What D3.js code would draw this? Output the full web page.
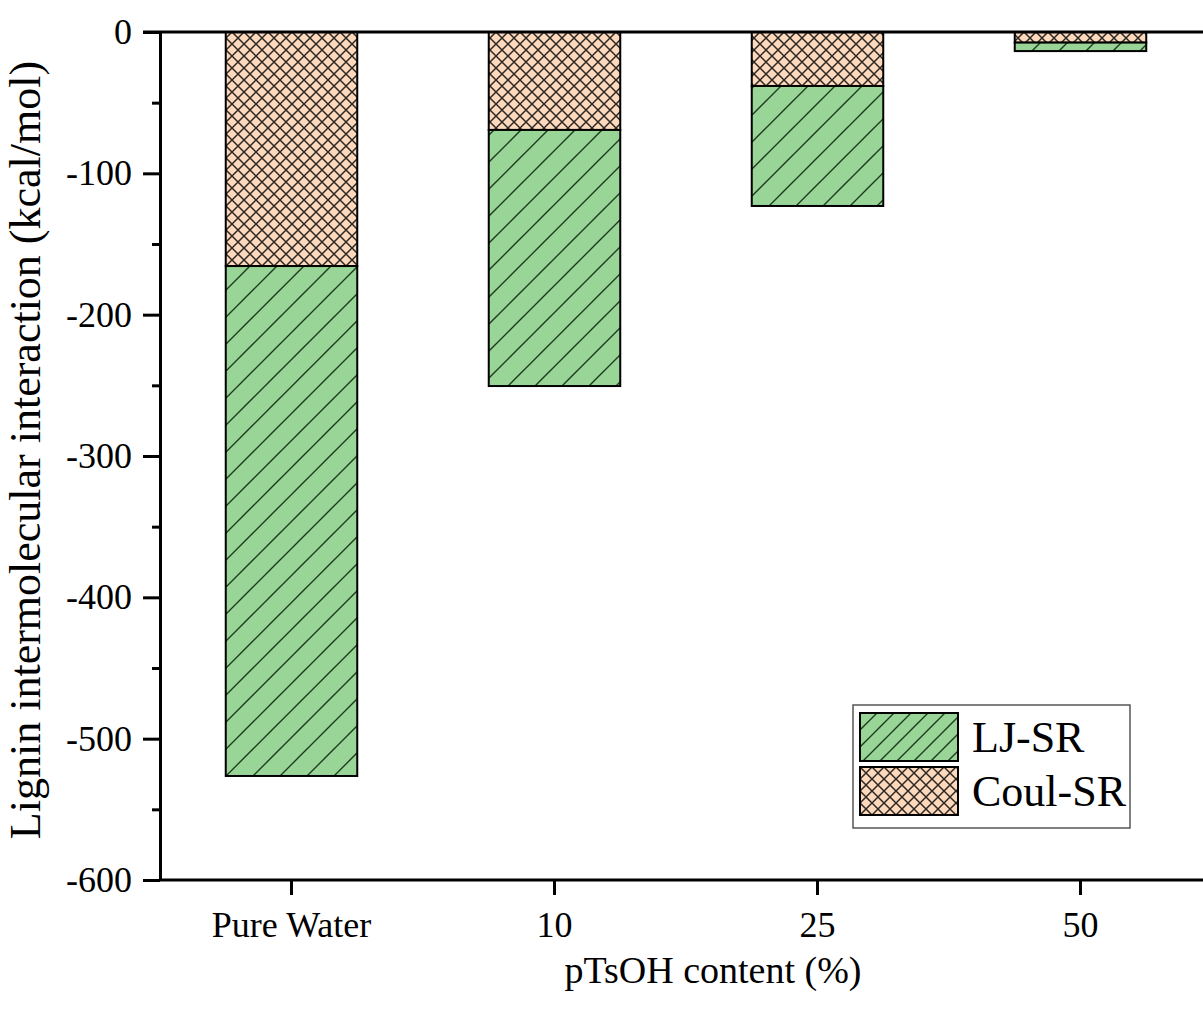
<!DOCTYPE html>
<html>
<head>
<meta charset="utf-8">
<script src="https://cdn.jsdelivr.net/npm/d3@7"></script>
<style>
  body { margin: 0; background: #fff; }
  svg { display: block; font-family: "Liberation Serif", "Times New Roman", serif; }
  .axis path, .axis line { stroke: #000; stroke-width: 3; }
  .axis text { font-size: 36px; fill: #000; font-family: "Liberation Serif", serif; }
</style>
</head>
<body>
<svg id="MyGraph"></svg>
<script>
// categories and series (kcal/mol)
var categories = ["Pure Water", "10", "25", "50"];
var ljValues = [-360.8, -181.2, -84.9, -6.0];
var coulValues = [-165.6, -69.3, -38.2, -7.5];
var yTicks = [0, -100, -200, -300, -400, -500, -600];
var yMinorTicks = [-50, -150, -250, -350, -450, -550];
var seriesNames = ["LJ-SR", "Coul-SR"];

var W = 1203, H = 1014;
var margin = {top: 32, left: 160, bottom: 134};
var plotH = H - margin.top - margin.bottom;   // 848
var plotW = 1052;                              // runs past the right edge like the original

var svg = d3.select("#MyGraph").attr("width", W).attr("height", H);

// patterns
var defs = svg.append("defs");
function diagPattern(id, period, fill) {
  var p = defs.append("pattern").attr("id", id)
      .attr("patternUnits", "userSpaceOnUse")
      .attr("width", period).attr("height", period);
  p.append("rect").attr("width", period).attr("height", period).attr("fill", fill);
  p.append("path")
      .attr("d", "M0," + period + "L" + period + ",0M-2,2L2,-2M" + (period - 2) + "," + (period + 2) + "L" + (period + 2) + "," + (period - 2))
      .attr("stroke", "#1d3a1d").attr("stroke-width", 1.4);
}
function crossPattern(id, period, fill) {
  var p = defs.append("pattern").attr("id", id)
      .attr("patternUnits", "userSpaceOnUse")
      .attr("width", period).attr("height", period);
  p.append("rect").attr("width", period).attr("height", period).attr("fill", fill);
  p.append("path")
      .attr("d", "M0," + period + "L" + period + ",0M0,0L" + period + "," + period)
      .attr("stroke", "#2e2620").attr("stroke-width", 1.5);
}
var green = "#98d597", peach = "#fcd9bd";
diagPattern("ljPat", 27, green);
diagPattern("ljPatLeg", 17, green);
crossPattern("coulPat", 12, peach);

var g = svg.append("g").attr("transform", "translate(" + margin.left + "," + margin.top + ")");

var x = d3.scaleBand().domain(categories).range([0, plotW]).paddingInner(0.5).paddingOuter(0.25);
var y = d3.scaleLinear().domain([-600, 0]).range([plotH, 0]);

// stacked bars: Coul-SR from 0, LJ-SR below it
var rows = categories.map(function(c, i){
  return {cat: c, coul: coulValues[i], lj: ljValues[i]};
});

g.selectAll("rect.coul")
    .data(rows).enter().append("rect")
    .attr("class", "coul")
    .attr("x", function(d){ return x(d.cat); })
    .attr("width", x.bandwidth())
    .attr("y", y(0))
    .attr("height", function(d){ return y(d.coul) - y(0); })
    .attr("fill", "url(#coulPat)")
    .attr("stroke", "#000").attr("stroke-width", 2);

g.selectAll("rect.lj")
    .data(rows).enter().append("rect")
    .attr("class", "lj")
    .attr("x", function(d){ return x(d.cat); })
    .attr("width", x.bandwidth())
    .attr("y", function(d){ return y(d.coul); })
    .attr("height", function(d){ return y(d.coul + d.lj) - y(d.coul); })
    .attr("fill", "url(#ljPat)")
    .attr("stroke", "#000").attr("stroke-width", 2);

// top frame line
g.append("line")
    .attr("x1", -17).attr("x2", W).attr("y1", y(0)).attr("y2", y(0))
    .attr("stroke", "#000").attr("stroke-width", 3);

// x axis
g.append("g")
    .attr("class", "axis")
    .attr("transform", "translate(0," + plotH + ")")
    .call(d3.axisBottom(x).tickSizeInner(15).tickSizeOuter(0).tickPadding(16))
    .select(".domain").attr("d", "M0,0H" + W);

// y axis: minor then major
g.append("g")
    .attr("class", "axis")
    .call(d3.axisLeft(y).tickValues(yMinorTicks).tickSizeInner(8).tickSizeOuter(0).tickFormat(""))
    .select(".domain").remove();

g.append("g")
    .attr("class", "axis")
    .call(d3.axisLeft(y).tickValues(yTicks).tickSizeInner(17).tickSizeOuter(0).tickPadding(11)
      .tickFormat(function(d){ return d3.format("d")(d).replace("−", "-"); }));

// axis titles
svg.append("text")
    .attr("x", 713).attr("y", 983)
    .attr("text-anchor", "middle")
    .style("font-size", "38px")
    .text("pTsOH content (%)");

svg.append("text")
    .attr("transform", "translate(40,450) rotate(-90)")
    .attr("text-anchor", "middle")
    .style("font-size", "44px")
    .text("Lignin intermolecular interaction (kcal/mol)");

// legend
var leg = svg.append("g").attr("transform", "translate(853,705)");
leg.append("rect")
    .attr("width", 277).attr("height", 123)
    .attr("fill", "#fff").attr("stroke", "#555").attr("stroke-width", 1.5);

var legFills = ["url(#ljPatLeg)", "url(#coulPat)"];
var legItem = leg.selectAll("g.item")
    .data(seriesNames).enter().append("g")
    .attr("class", "item")
    .attr("transform", function(d, i){ return "translate(7," + (8 + i * 54) + ")"; });

legItem.append("rect")
    .attr("width", 98).attr("height", 48)
    .attr("fill", function(d, i){ return legFills[i]; })
    .attr("stroke", "#000").attr("stroke-width", 2);

legItem.append("text")
    .attr("x", 112).attr("y", 39)
    .style("font-size", "44px")
    .text(function(d){ return d; });
</script>
</body>
</html>
